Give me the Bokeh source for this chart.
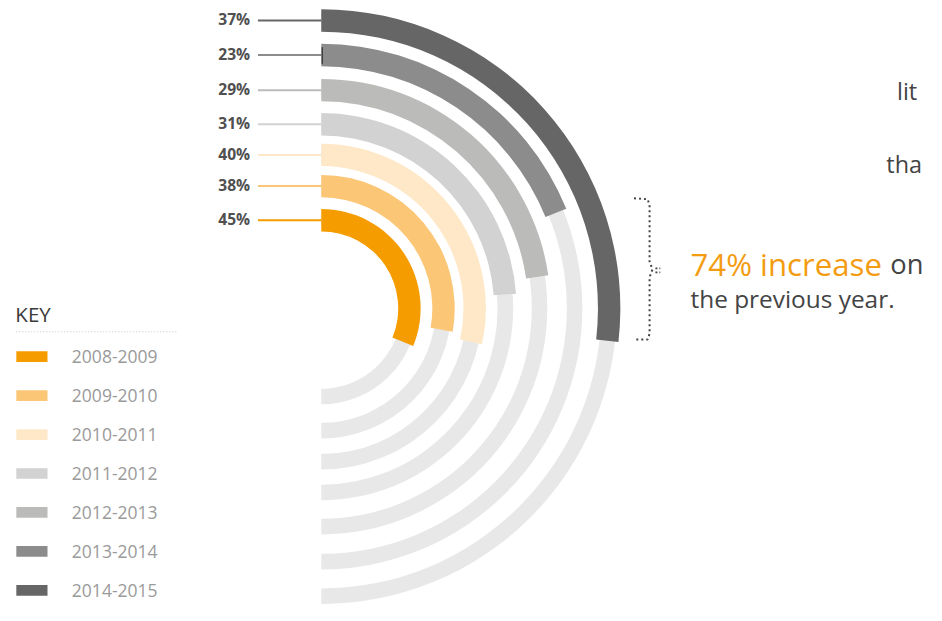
import math
from bokeh.plotting import figure
from bokeh.models import Range1d, ColumnDataSource
from bokeh.core.properties import value
from bokeh.embed import file_html
from bokeh.resources import INLINE

# ---------------- data ----------------
seasons = ["2008-2009", "2009-2010", "2010-2011", "2011-2012",
           "2012-2013", "2013-2014", "2014-2015"]
growth_pct = [45, 38, 40, 31, 29, 23, 37]
# arc length of each ring as a share (%) of the half-circle track
arc_share = [62.4, 55.6, 57.0, 47.6, 45.4, 37.7, 53.6]
colors = ["#f59c00", "#fbc676", "#fee8c8", "#d3d2d3",
          "#bbbbba", "#8c8c8c", "#666667"]
headline = "74% increase"
headline_rest = "on"
headline_line2 = "the previous year."
side_words = ["lit", "tha"]

# ---------------- layout (reference pixel coords) ----------------
W_REF, H_REF = 942, 621
FIG_W, FIG_H = 926, 605
S = FIG_H / H_REF                      # uniform px per unit
XPAD = (FIG_W / S - W_REF) / 2

def Y(ry):
    return H_REF - ry

def fs(px):
    return f"{px * S:.1f}px"

CX, CY = 325.0, 316.0
radii = [90.5, 125.5, 157.5, 189.0, 224.0, 260.0, 295.5]
BAND = 23.0
TRACK = 16.0
FONT = "Open Sans"

p = figure(width=FIG_W, height=FIG_H, output_backend="svg", toolbar_location=None,
           x_range=Range1d(-XPAD, W_REF + XPAD), y_range=Range1d(0, H_REF),
           min_border=0, background_fill_color="white", border_fill_color="white")
p.axis.visible = False
p.grid.visible = False
p.outline_line_color = None

# grey tracks (half circles, top to bottom, clockwise)
p.annular_wedge(x=[CX] * 7, y=[Y(CY)] * 7,
                inner_radius=[r - TRACK / 2 for r in radii],
                outer_radius=[r + TRACK / 2 for r in radii],
                start_angle=math.pi / 2, end_angle=-math.pi / 2,
                direction="clock", color="#e8e8e8", line_color=None)

# coloured arcs
ends = [math.pi / 2 - math.radians(s / 100 * 180) for s in arc_share]
src = ColumnDataSource(dict(
    x=[CX] * 7, y=[Y(CY)] * 7,
    ir=[r - BAND / 2 for r in radii], orr=[r + BAND / 2 for r in radii],
    sa=[math.pi / 2] * 7, ea=ends, c=colors))
p.annular_wedge(x="x", y="y", inner_radius="ir", outer_radius="orr",
                start_angle="sa", end_angle="ea", direction="clock",
                fill_color="c", line_color=None, source=src)

# label leader lines and percentages
top_y = [Y(CY - r) for r in radii]
p.segment(x0=[260] * 7, y0=top_y, x1=[CX] * 7, y1=top_y,
          line_color=colors, line_width=2)
p.text(x=[252] * 7, y=[v + 1 for v in top_y], text=[f"{g}%" for g in growth_pct],
       text_align="right", text_baseline="middle",
       text_font=value(FONT), text_font_size=fs(16), text_font_style="bold",
       text_color="#505050")

# small dark tick on the 2013-2014 ring start
p.segment(x0=[326], y0=[Y(48)], x1=[326], y1=[Y(65)], line_color="#222222", line_width=1)

# key
p.text(x=[11], y=[Y(322)], text=["KEY"], text_align="left", text_baseline="alphabetic",
       text_font=value(FONT), text_font_size=fs(21), text_color="#3a3a3a")
p.segment(x0=[12], y0=[Y(340)], x1=[178], y1=[Y(340)], line_color="#c8c8c8",
          line_width=1, line_dash="1 2")
rows = [Y(365.5 + 40 * i) for i in range(7)]
p.rect(x=[28] * 7, y=rows, width=32, height=11, fill_color=colors, line_color=None)
p.text(x=[69] * 7, y=rows, text=seasons, text_align="left", text_baseline="middle",
       text_font=value(FONT), text_font_size=fs(18), text_color="#9a9a9a")

# dotted bracket
bx = [646, 660, 662, 662, 665, 662, 662, 660, 646]
by = [Y(v) for v in [203, 204, 210, 268, 276, 284, 342, 348, 348]]
p.line(bx, by, line_color="#444444", line_width=2, line_dash="2 3")
p.segment(x0=[668, 668], y0=[Y(275), Y(279)], x1=[673, 673], y1=[Y(275), Y(279)],
          line_color="#444444", line_width=1.8, line_dash="2 2")

# annotation texts
p.text(x=[704], y=[Y(270)], text=[headline], text_align="left", text_baseline="alphabetic",
       text_font=value(FONT), text_font_size=fs(32), text_color="#f39c12")
p.text(x=[909], y=[Y(270)], text=[headline_rest], text_align="left", text_baseline="alphabetic",
       text_font=value(FONT), text_font_size=fs(28), text_color="#444444")
p.text(x=[704], y=[Y(306)], text=[headline_line2], text_align="left", text_baseline="alphabetic",
       text_font=value(FONT), text_font_size=fs(25), text_color="#444444")
p.text(x=[916, 905], y=[Y(93), Y(168)], text=side_words, text_align="left",
       text_baseline="alphabetic", text_font=value(FONT), text_font_size=fs(24),
       text_color="#444444")

open("out.html", "w").write(file_html(p, INLINE))
